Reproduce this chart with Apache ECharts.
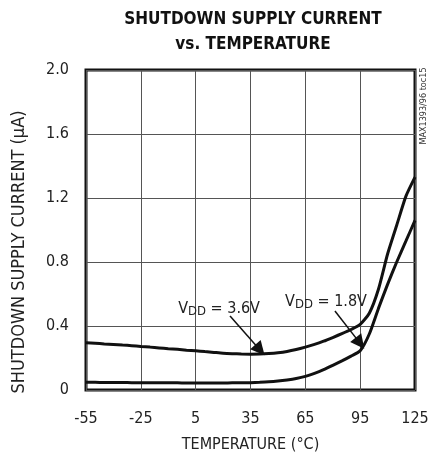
<!DOCTYPE html>
<html>
<head>
<meta charset="utf-8">
<script src="https://cdn.jsdelivr.net/npm/echarts@6/dist/echarts.min.js"></script>
<style>
  html, body { margin: 0; padding: 0; background: #fff; }
  #chart { width: 437px; height: 458px; }
</style>
</head>
<body>
<div id="chart"></div>
<script>
// 数据：温度(°C) 与关断电流(µA)
var xTicks = [-55, -25, 5, 35, 65, 95, 125];
var yTicks = [0, 0.4, 0.8, 1.2, 1.6, 2.0];

var temps = [-55, -50, -45, -40, -35, -30, -25, -20, -15, -10, -5, 0, 5, 10, 15, 20, 25, 30, 35,
             40, 45, 50, 55, 60, 65, 70, 75, 80, 85, 90, 95, 100, 105, 110, 115, 120, 125];
var vals36 = [0.295, 0.292, 0.288, 0.285, 0.281, 0.277, 0.272, 0.268, 0.263, 0.258, 0.254, 0.249, 0.245,
              0.240, 0.235, 0.230, 0.227, 0.225, 0.224, 0.225, 0.228, 0.233, 0.241, 0.253, 0.268, 0.285,
              0.305, 0.328, 0.352, 0.378, 0.41, 0.48, 0.63, 0.85, 1.03, 1.21, 1.33];
var vals18 = [0.048, 0.048, 0.047, 0.047, 0.047, 0.046, 0.046, 0.046, 0.045, 0.045, 0.045, 0.044, 0.044,
              0.044, 0.044, 0.044, 0.045, 0.045, 0.046, 0.048, 0.051, 0.056, 0.063, 0.072, 0.085, 0.104,
              0.127, 0.154, 0.182, 0.212, 0.245, 0.35, 0.51, 0.66, 0.8, 0.93, 1.06];

// 标注位置（数据坐标）
var label36 = [17.8, 0.51];
var label18 = [76.3, 0.553];
var arrow36 = [[23.8, 0.463], [40.2, 0.25]];
var arrow18 = [[81.2, 0.494], [94.9, 0.293]];

function pairs(xs, ys) {
    return xs.map(function(x, i) { return [x, ys[i]]; });
}

var narrow = '"Liberation Sans Narrow", "DejaVu Sans Condensed", sans-serif';
var ink = '#111';

function vddLabel(coord, text) {
    return {
        coord: coord,
        symbolSize: 0,
        label: {
            show: true,
            position: 'inside',
            formatter: '{v|V}{s|DD}{v| = ' + text + '}',
            rich: {
                v: { fontFamily: narrow, fontSize: 16, color: '#222' },
                s: { fontFamily: narrow, fontSize: 13, color: '#222', padding: [6, 0, 0, 0] }
            }
        }
    };
}

function lineSeries(name, ys, labelPos, labelText, arrow) {
    return {
        name: name,
        type: 'line',
        data: pairs(temps, ys),
        smooth: 0.2,
        showSymbol: false,
        lineStyle: { color: ink, width: 3 },
        markPoint: { silent: true, data: [vddLabel(labelPos, labelText)] },
        markLine: {
            silent: true,
            symbol: ['none', 'triangle'],
            symbolSize: 14,
            label: { show: false },
            lineStyle: { color: ink, width: 1.5, type: 'solid' },
            data: [[{ coord: arrow[0] }, { coord: arrow[1] }]]
        }
    };
}

var myChart = echarts.init(document.getElementById('chart'), null, { renderer: 'canvas' });

var option = {
    backgroundColor: '#fff',
    animation: false,
    title: {
        text: 'SHUTDOWN SUPPLY CURRENT\nvs. TEMPERATURE',
        left: 248,
        top: 2,
        textAlign: 'center',
        textStyle: {
            fontFamily: '"DejaVu Sans Condensed", "DejaVu Sans", sans-serif',
            fontWeight: 'bold',
            fontSize: 17,
            lineHeight: 25,
            color: '#111'
        }
    },
    grid: {
        left: 86, top: 70, width: 329, height: 328,
        show: true,
        borderColor: ink,
        borderWidth: 3
    },
    xAxis: {
        type: 'value',
        min: xTicks[0],
        max: xTicks[xTicks.length - 1],
        interval: 30,
        axisLine: { show: false },
        axisTick: { show: false },
        splitLine: { lineStyle: { color: '#555', width: 1 } },
        axisLabel: { margin: 21, fontFamily: narrow, fontSize: 16, color: '#222' },
        name: 'TEMPERATURE (°C)',
        nameLocation: 'middle',
        nameGap: 47,
        nameTextStyle: { fontFamily: narrow, fontSize: 16, color: '#222' }
    },
    yAxis: {
        type: 'value',
        min: yTicks[0],
        max: yTicks[yTicks.length - 1],
        interval: 0.4,
        axisLine: { show: false },
        axisTick: { show: false },
        splitLine: { lineStyle: { color: '#555', width: 1 } },
        axisLabel: {
            margin: 17,
            fontFamily: narrow, fontSize: 16, color: '#222',
            formatter: function(v) { return v === 0 ? '0' : v.toFixed(1); }
        }
    },
    graphic: [
        {
            type: 'text',
            x: 19, y: 252,
            rotation: Math.PI / 2,
            style: {
                text: 'SHUTDOWN SUPPLY CURRENT (µA)',
                fontFamily: narrow, fontSize: 18, fill: '#222',
                align: 'center', verticalAlign: 'middle'
            }
        },
        {
            type: 'text',
            x: 424, y: 106,
            rotation: Math.PI / 2,
            style: {
                text: 'MAX1393/96 toc15',
                fontFamily: narrow, fontSize: 9, fill: '#333',
                align: 'center', verticalAlign: 'middle'
            }
        }
    ],
    series: [
        lineSeries('VDD = 3.6V', vals36, label36, '3.6V', arrow36),
        lineSeries('VDD = 1.8V', vals18, label18, '1.8V', arrow18)
    ]
};

myChart.setOption(option);
</script>
</body>
</html>
